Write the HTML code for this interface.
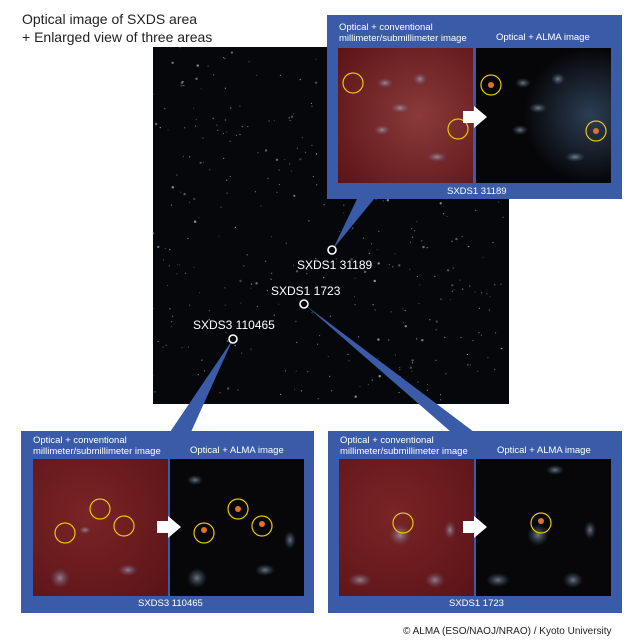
<!DOCTYPE html>
<html><head><meta charset="utf-8"><style>
html,body{margin:0;padding:0;background:#fff;}
body{width:640px;height:640px;position:relative;overflow:hidden;font-family:"Liberation Sans",sans-serif;}
</style></head><body>
<svg width="640" height="640" viewBox="0 0 640 640" xmlns="http://www.w3.org/2000/svg" style="position:absolute;left:0;top:0">
<defs>
<radialGradient id="red1" cx="0.6" cy="0.5" r="0.8"><stop offset="0" stop-color="#8a3a3a"/><stop offset="1" stop-color="#5a1216"/></radialGradient>
<radialGradient id="red2" cx="0.4" cy="0.4" r="0.8"><stop offset="0" stop-color="#7a2426"/><stop offset="1" stop-color="#5c1418"/></radialGradient>
<radialGradient id="blu" cx="0.85" cy="0.5" r="0.5"><stop offset="0" stop-color="#2c3e55"/><stop offset="1" stop-color="#060608"/></radialGradient>
<radialGradient id="gal"><stop offset="0" stop-color="#c8d4e8" stop-opacity="0.9"/><stop offset="1" stop-color="#5a7aa8" stop-opacity="0"/></radialGradient>
</defs>
<text x="22" y="24" font-size="14" fill="#222">Optical image of SXDS area</text>
<text x="22" y="42" font-size="14" fill="#222">+ Enlarged view of three areas</text>
<rect x="153" y="47" width="356" height="357" fill="#05070a"/>
<g id="stars"></g>
<!-- pointers -->
<polygon points="357,199 374,199 333,249" fill="#3a5ba8"/>
<polygon points="170,432 191,432 233,339" fill="#3a5ba8"/>
<polygon points="451,432 474,432 304,304" fill="#3a5ba8"/>
<!-- markers -->
<circle cx="332" cy="250" r="4" fill="none" stroke="#fff" stroke-width="1.6"/>
<circle cx="304" cy="304" r="4" fill="none" stroke="#fff" stroke-width="1.6"/>
<circle cx="233" cy="339" r="4" fill="none" stroke="#fff" stroke-width="1.6"/>
<g font-size="12" fill="#fff">
<text x="297" y="269">SXDS1 31189</text>
<text x="271" y="295">SXDS1 1723</text>
<text x="193" y="329">SXDS3 110465</text>
</g>
<!-- panel top right -->
<g>
<rect x="327" y="15" width="295" height="184" fill="#3a5ba8"/>
<rect x="338" y="48" width="135" height="135" fill="url(#red1)"/>
<rect x="476" y="48" width="135" height="135" fill="url(#blu)"/>
<g opacity="0.6"><ellipse cx="385" cy="83" rx="8" ry="5" fill="url(#gal)"/><ellipse cx="400" cy="108" rx="9" ry="5" fill="url(#gal)"/><ellipse cx="437" cy="157" rx="10" ry="5" fill="url(#gal)"/><ellipse cx="382" cy="130" rx="8" ry="5" fill="url(#gal)"/><ellipse cx="420" cy="79" rx="7" ry="6" fill="url(#gal)"/>
<ellipse cx="523" cy="83" rx="8" ry="5" fill="url(#gal)"/><ellipse cx="538" cy="108" rx="9" ry="5" fill="url(#gal)"/><ellipse cx="575" cy="157" rx="10" ry="5" fill="url(#gal)"/><ellipse cx="520" cy="130" rx="8" ry="5" fill="url(#gal)"/><ellipse cx="558" cy="79" rx="7" ry="6" fill="url(#gal)"/></g>
<circle cx="353" cy="83" r="10" fill="none" stroke="#e8c800" stroke-width="1.2"/>
<circle cx="458" cy="129" r="10" fill="none" stroke="#e8c800" stroke-width="1.2"/>
<circle cx="491" cy="85" r="10" fill="none" stroke="#e8c800" stroke-width="1.2"/>
<circle cx="596" cy="131" r="10" fill="none" stroke="#e8c800" stroke-width="1.2"/>
<circle cx="491" cy="85" r="3" fill="#e0702a"/><circle cx="596" cy="131" r="3" fill="#e0702a"/>
<polygon points="463,111 474,111 474,106 487,117 474,128 474,123 463,123" fill="#fff"/>
<g font-size="9.5" fill="#fff"><text x="339" y="30">Optical + conventional</text><text x="339" y="41">millimeter/submillimeter image</text><text x="496" y="40">Optical + ALMA image</text><text x="447" y="194">SXDS1 31189</text></g>
</g>
<!-- panel bottom left -->
<g>
<rect x="21" y="431" width="293" height="182" fill="#3a5ba8"/>
<rect x="33" y="459" width="135" height="137" fill="url(#red2)"/>
<rect x="170" y="459" width="134" height="137" fill="#070709"/>
<g opacity="0.6"><circle cx="60" cy="578" r="10" fill="url(#gal)"/><ellipse cx="128" cy="570" rx="10" ry="6" fill="url(#gal)"/><ellipse cx="85" cy="530" rx="6" ry="4" fill="url(#gal)"/>
<circle cx="197" cy="578" r="10" fill="url(#gal)"/><ellipse cx="265" cy="570" rx="10" ry="6" fill="url(#gal)"/><ellipse cx="290" cy="540" rx="6" ry="9" fill="url(#gal)"/><ellipse cx="195" cy="480" rx="8" ry="5" fill="url(#gal)"/></g>
<circle cx="65" cy="533" r="10" fill="none" stroke="#e8c800" stroke-width="1.2"/>
<circle cx="100" cy="509" r="10" fill="none" stroke="#e8c800" stroke-width="1.2"/>
<circle cx="124" cy="526" r="10" fill="none" stroke="#e8c800" stroke-width="1.2"/>
<circle cx="204" cy="533" r="10" fill="none" stroke="#e8c800" stroke-width="1.2"/>
<circle cx="238" cy="509" r="10" fill="none" stroke="#e8c800" stroke-width="1.2"/>
<circle cx="262" cy="526" r="10" fill="none" stroke="#e8c800" stroke-width="1.2"/>
<circle cx="204" cy="530" r="3" fill="#e0702a"/><circle cx="238" cy="509" r="3" fill="#e0702a"/><circle cx="262" cy="524" r="3" fill="#e0702a"/>
<polygon points="157,521 168,521 168,516 181,527 168,538 168,533 157,533" fill="#fff"/>
<g font-size="9.5" fill="#fff"><text x="33" y="443">Optical + conventional</text><text x="33" y="454">millimeter/submillimeter image</text><text x="190" y="453">Optical + ALMA image</text><text x="138" y="606">SXDS3 110465</text></g>
</g>
<!-- panel bottom right -->
<g>
<rect x="328" y="431" width="294" height="182" fill="#3a5ba8"/>
<rect x="339" y="459" width="135" height="137" fill="url(#red2)"/>
<rect x="476" y="459" width="135" height="137" fill="#070709"/>
<g opacity="0.6"><circle cx="400" cy="535" r="11" fill="url(#gal)"/><ellipse cx="360" cy="580" rx="12" ry="7" fill="url(#gal)"/><ellipse cx="435" cy="580" rx="10" ry="8" fill="url(#gal)"/><ellipse cx="450" cy="530" rx="6" ry="9" fill="url(#gal)"/>
<circle cx="538" cy="535" r="11" fill="url(#gal)"/><ellipse cx="498" cy="580" rx="12" ry="7" fill="url(#gal)"/><ellipse cx="573" cy="580" rx="10" ry="8" fill="url(#gal)"/><ellipse cx="590" cy="530" rx="6" ry="9" fill="url(#gal)"/><ellipse cx="555" cy="470" rx="9" ry="5" fill="url(#gal)"/></g>
<circle cx="403" cy="523" r="10" fill="none" stroke="#e8c800" stroke-width="1.2"/>
<circle cx="541" cy="523" r="10" fill="none" stroke="#e8c800" stroke-width="1.2"/>
<circle cx="541" cy="521" r="3" fill="#e0702a"/>
<polygon points="463,521 474,521 474,516 487,527 474,538 474,533 463,533" fill="#fff"/>
<g font-size="9.5" fill="#fff"><text x="340" y="443">Optical + conventional</text><text x="340" y="454">millimeter/submillimeter image</text><text x="497" y="453">Optical + ALMA image</text><text x="449" y="606">SXDS1 1723</text></g>
</g>
<text x="403" y="634" font-size="10" fill="#222">© ALMA (ESO/NAOJ/NRAO) / Kyoto University</text>
</svg>
<script>
var g=document.getElementById('stars'),s=7,h='';
function r(){s=(s*16807)%2147483647;return s/2147483647;}
for(var i=0;i<400;i++){var x=153+r()*356,y=47+r()*357,rr=r()<0.1?1.2:0.6,o=0.25+r()*0.5;
h+='<circle cx="'+x.toFixed(1)+'" cy="'+y.toFixed(1)+'" r="'+rr+'" fill="#bcd4f0" opacity="'+o.toFixed(2)+'"/>';}
g.innerHTML=h;
</script>
</body></html>
